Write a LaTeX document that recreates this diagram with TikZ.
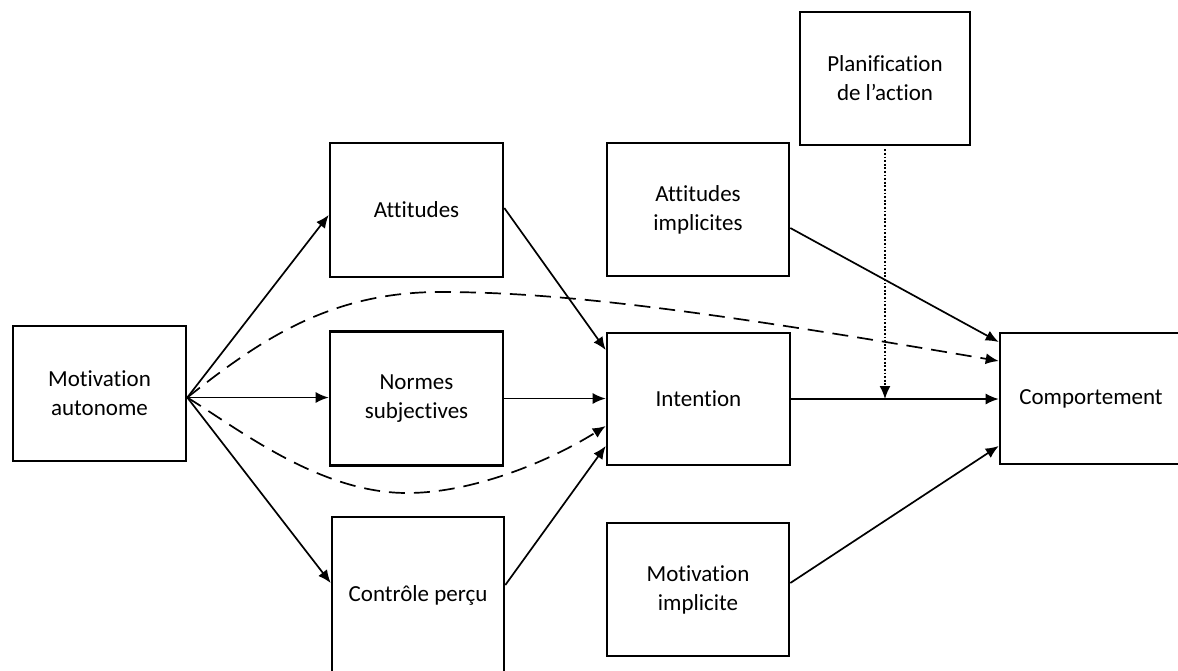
\documentclass[tikz,border=0pt]{standalone}
\usepackage{fontspec}
\setmainfont{Carlito}[Ligatures=NoCommon]
\usetikzlibrary{arrows.meta, positioning}

\begin{document}
\begin{tikzpicture}[x=1pt, y=-1pt,
  box/.style={draw, line width=2.6pt, inner sep=0pt, align=center,
    font=\fontsize{23}{29}\selectfont},
  arr/.style={line width=1.7pt, -{Latex[length=13pt,width=11pt]}},
  dsh/.style={arr, dash pattern=on 16pt off 9pt},
  dot/.style={line width=1.5pt, dash pattern=on 1.8pt off 1.8pt, -{Latex[length=13pt,width=11pt]}}]
\useasboundingbox (0,0) rectangle (1178,670);
% boxes
\node (ma) at (99.5,393.5) [box, minimum width=173pt, minimum height=135pt] {Motivation\\autonome};
\node (att) at (416.5,210) [box, minimum width=173pt, minimum height=134pt] {Attitudes};
\node (norm) at (416.5,398.5) [box, minimum width=173pt, minimum height=134pt] {Normes\\subjectives};
\node (ctrl) at (418,595) [box, minimum width=172pt, minimum height=156pt] {Contrôle perçu};
\node (attimp) at (698,209.5) [box, minimum width=182pt, minimum height=133pt] {Attitudes\\implicites};
\node (inten) at (698.5,399) [box, minimum width=183pt, minimum height=132pt] {Intention};
\node (motimp) at (698,589.5) [box, minimum width=182pt, minimum height=133pt] {Motivation\\implicite};
\node (plan) at (885,78.5) [box, minimum width=170pt, minimum height=133pt] {Planification\\de l’action};
\node (comp) at (1091,398.5) [box, minimum width=182pt, minimum height=131pt] {Comportement};
\coordinate (src) at ([yshift=-4pt]ma.east);
\coordinate (mod) at (plan.south |- inten.east);
% solid paths
\draw[arr] (src) -- ([yshift=-5pt]att.west);
\draw[arr] (src) -- (src -| norm.west);
\draw[arr] (src) -- ([yshift=12pt]ctrl.west);
\draw[arr] ([yshift=2pt]att.east) -- ([yshift=49pt]inten.west);
\draw[arr] (norm.east) -- (norm.east -| inten.west);
\draw[arr] ([yshift=10pt]ctrl.east) -- ([yshift=-47pt]inten.west);
\draw[arr] ([yshift=-18.5pt]attimp.east) -- ([yshift=56.5pt]comp.west);
\draw[arr] (inten.east) -- (inten.east -| comp.west);
\draw[arr] ([yshift=6.5pt]motimp.east) -- ([yshift=-47.5pt]comp.west);
% dashed paths
\draw[dsh] (src) .. controls (260,340) and (330,292) .. (440,292)
  .. controls (560,292) and (700,310) .. ([yshift=37.5pt]comp.west);
\draw[dsh] (src) .. controls (240,430) and (320,493) .. (407,493)
  .. controls (480,493) and (560,455) .. ([yshift=-27pt]inten.west);
% moderation
\draw[dot] ([yshift=-3pt]plan.south) -- (mod);
\end{tikzpicture}
\end{document}
